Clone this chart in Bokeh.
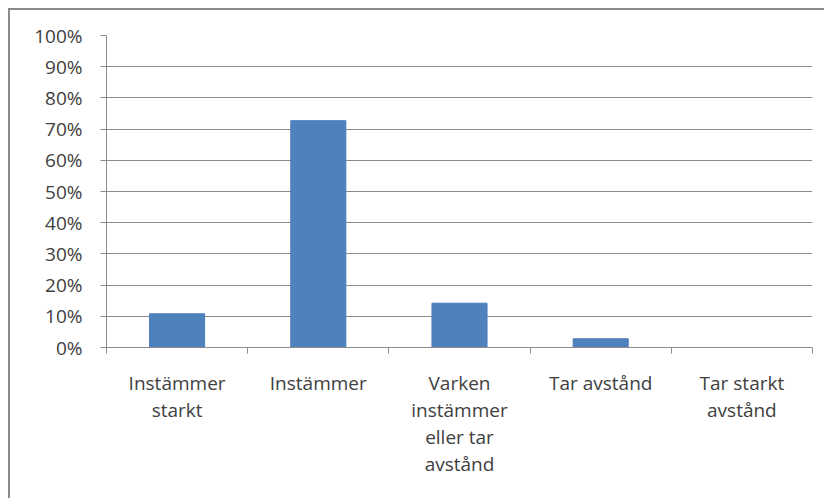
from bokeh.plotting import figure
from bokeh.models import Range1d, FixedTicker, NumeralTickFormatter, LinearAxis, ColumnDataSource
from bokeh.embed import file_html
from bokeh.resources import INLINE

categories = ["Instämmer\nstarkt", "Instämmer", "Varken\ninstämmer\neller tar\navstånd",
              "Tar avstånd", "Tar starkt\navstånd"]
values = [0.108, 0.727, 0.142, 0.028, 0.0]
y_ticks = [i / 10 for i in range(11)]

positions = [i + 0.5 for i in range(len(categories))]
src = ColumnDataSource(dict(x=positions, top=values))

FONT = "Open Sans"
TXT = "#404040"
GRID = "#8c8c8c"

p = figure(width=816, height=490, output_backend="svg", toolbar_location=None,
           x_range=Range1d(0, len(categories)), y_range=Range1d(0, 1),
           min_border_left=96, min_border_top=25, min_border_right=14, min_border_bottom=153)
p.styles = {"margin-top": "8px", "margin-left": "8px",
            "border-top": "2px solid #8a8a8a", "border-left": "2px solid #8a8a8a"}
p.outline_line_color = None
p.background_fill_color = "white"
p.border_fill_color = "white"

p.vbar(x="x", top="top", width=0.39, source=src, fill_color="#4F81BD", line_color="#4A7EBB")

# y axis
ya = p.yaxis[0]
ya.ticker = FixedTicker(ticks=y_ticks)
ya.formatter = NumeralTickFormatter(format="0%")
ya.axis_line_color = GRID
ya.major_tick_line_color = GRID
ya.major_tick_out = 6
ya.major_tick_in = 0
ya.minor_tick_line_color = None
ya.major_label_standoff = 18
ya.major_label_text_font = FONT
ya.major_label_text_font_size = "19px"
ya.major_label_text_color = TXT

p.ygrid.ticker = FixedTicker(ticks=y_ticks)
p.ygrid.grid_line_color = GRID
p.ygrid.grid_line_width = 1
p.xgrid.grid_line_color = None

# x axis with boundary ticks
xa = p.xaxis[0]
xa.ticker = FixedTicker(ticks=list(range(len(categories) + 1)))
xa.major_label_overrides = {i: "" for i in range(len(categories) + 1)}
xa.axis_line_color = GRID
xa.major_tick_line_color = GRID
xa.major_tick_out = 6
xa.major_tick_in = 0
xa.minor_tick_line_color = None
xa.major_label_text_font_size = "1px"
xa.major_label_standoff = 0

# x axis for category labels
xl = LinearAxis(ticker=FixedTicker(ticks=positions),
                major_label_overrides={pos: c for pos, c in zip(positions, categories)})
xl.axis_line_color = None
xl.major_tick_line_color = None
xl.minor_tick_line_color = None
xl.major_label_standoff = 10
xl.major_label_text_font = FONT
xl.major_label_text_font_size = "19px"
xl.major_label_text_color = TXT
xl.major_label_text_line_height = 1.05
p.add_layout(xl, "below")

open("out.html", "w").write(file_html(p, INLINE))
